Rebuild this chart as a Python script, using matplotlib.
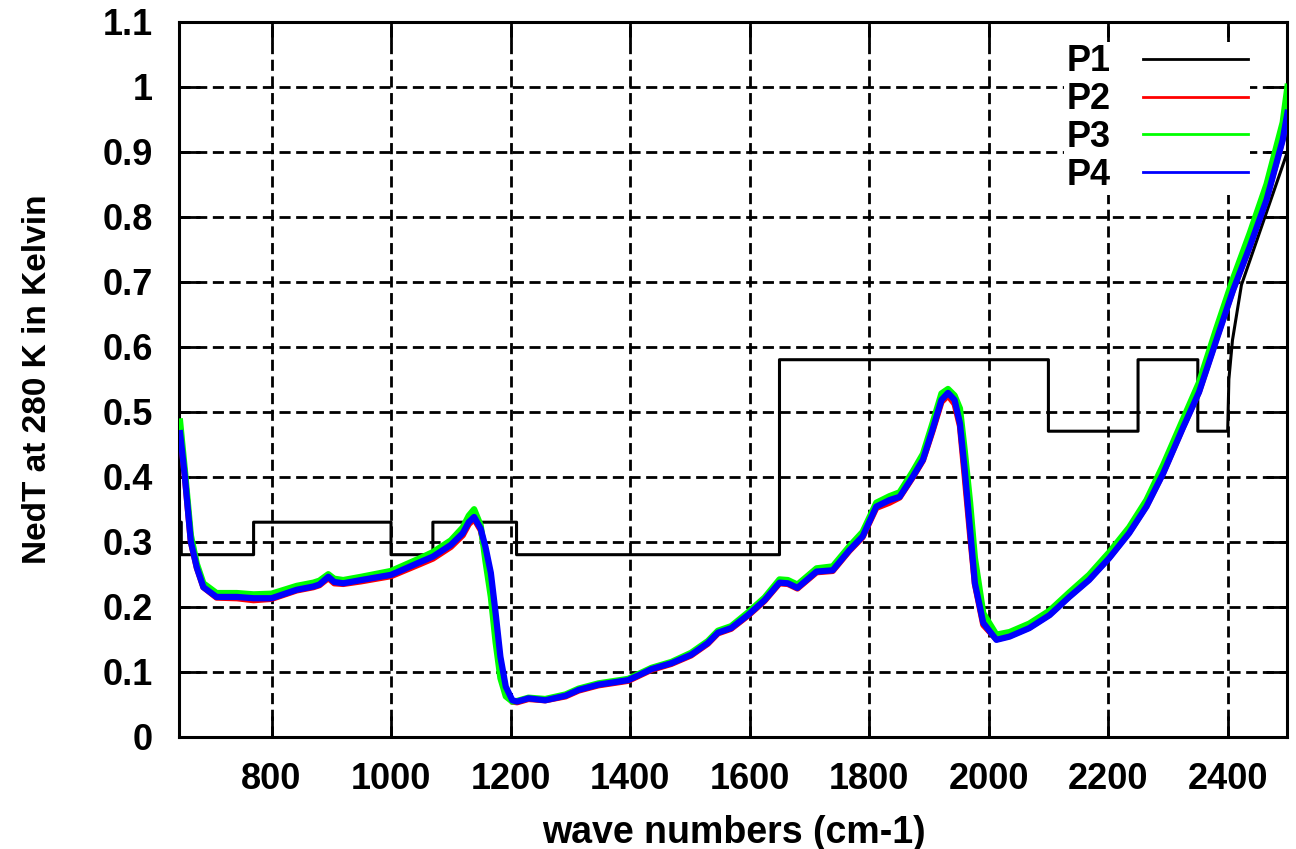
import matplotlib
matplotlib.use("Agg")
import matplotlib.pyplot as plt
from matplotlib.lines import Line2D
from matplotlib.ticker import FormatStrFormatter, MultipleLocator

# P1: stepped reference curve (vertices)
p1_wave = [646, 649, 649, 770, 770, 1000, 1000, 1070, 1070, 1210, 1210, 1650, 1650,
           2100, 2100, 2250, 2250, 2350, 2350, 2400, 2402, 2408, 2423, 2500]
p1_val = [0.33, 0.33, 0.28, 0.28, 0.33, 0.33, 0.28, 0.28, 0.33, 0.33, 0.28, 0.28, 0.58,
          0.58, 0.47, 0.47, 0.58, 0.58, 0.47, 0.47, 0.55, 0.61, 0.695, 0.90]

# P2, P3, P4: measured spectra, sampled on a common wave number grid
wave = [647, 655, 665, 675, 686, 708, 742, 770, 800, 842, 870, 880, 895, 905, 920, 950,
        1000, 1047, 1070, 1100, 1120, 1130, 1139, 1150, 1158, 1167, 1175, 1183, 1192,
        1203, 1211, 1230, 1258, 1292, 1314, 1347, 1397, 1436, 1469, 1502, 1530, 1547,
        1569, 1597, 1625, 1650, 1664, 1680, 1712, 1739, 1767, 1789, 1812, 1834, 1851,
        1873, 1890, 1906, 1921, 1932, 1943, 1952, 1960, 1969, 1977, 1991, 2013, 2035,
        2068, 2102, 2135, 2168, 2202, 2235, 2264, 2292, 2325, 2352, 2381, 2409, 2437,
        2465, 2492, 2500]

p2 = [0.47, 0.40, 0.30, 0.26, 0.23, 0.214, 0.213, 0.210, 0.212, 0.225, 0.230, 0.233,
      0.244, 0.236, 0.235, 0.239, 0.247, 0.265, 0.274, 0.292, 0.310, 0.327, 0.335, 0.318,
      0.285, 0.235, 0.165, 0.105, 0.068, 0.054, 0.053, 0.058, 0.056, 0.062, 0.071, 0.079,
      0.086, 0.103, 0.112, 0.125, 0.143, 0.159, 0.166, 0.186, 0.209, 0.236, 0.235, 0.228,
      0.253, 0.255, 0.286, 0.307, 0.352, 0.360, 0.368, 0.399, 0.425, 0.470, 0.515, 0.525,
      0.512, 0.478, 0.40, 0.31, 0.235, 0.172, 0.150, 0.155, 0.168, 0.188, 0.216, 0.242,
      0.276, 0.314, 0.355, 0.406, 0.476, 0.531, 0.612, 0.688, 0.755, 0.828, 0.92, 0.965]

p3 = [0.485, 0.41, 0.31, 0.266, 0.236, 0.221, 0.221, 0.219, 0.220, 0.232, 0.237, 0.240,
      0.250, 0.243, 0.241, 0.246, 0.255, 0.274, 0.284, 0.302, 0.322, 0.340, 0.350, 0.325,
      0.270, 0.215, 0.145, 0.09, 0.062, 0.054, 0.055, 0.060, 0.058, 0.065, 0.074, 0.082,
      0.089, 0.106, 0.115, 0.129, 0.147, 0.163, 0.170, 0.191, 0.214, 0.242, 0.241, 0.234,
      0.259, 0.262, 0.293, 0.315, 0.360, 0.370, 0.376, 0.408, 0.435, 0.482, 0.528, 0.535,
      0.525, 0.505, 0.44, 0.36, 0.275, 0.19, 0.157, 0.161, 0.174, 0.194, 0.222, 0.249,
      0.284, 0.322, 0.364, 0.418, 0.488, 0.545, 0.628, 0.705, 0.775, 0.85, 0.945, 1.0]

p4 = [0.467, 0.40, 0.30, 0.26, 0.23, 0.215, 0.215, 0.213, 0.213, 0.226, 0.231, 0.234,
      0.246, 0.238, 0.236, 0.241, 0.249, 0.268, 0.277, 0.295, 0.313, 0.330, 0.338, 0.320,
      0.292, 0.252, 0.19, 0.123, 0.077, 0.056, 0.054, 0.059, 0.056, 0.063, 0.072, 0.080,
      0.087, 0.104, 0.113, 0.126, 0.144, 0.160, 0.167, 0.187, 0.21, 0.237, 0.236, 0.229,
      0.254, 0.256, 0.287, 0.308, 0.354, 0.364, 0.369, 0.40, 0.426, 0.472, 0.518, 0.529,
      0.518, 0.482, 0.41, 0.318, 0.236, 0.175, 0.149, 0.154, 0.167, 0.187, 0.215, 0.241,
      0.275, 0.313, 0.354, 0.405, 0.475, 0.53, 0.61, 0.687, 0.754, 0.826, 0.918, 0.96]

plt.rcParams['font.family'] = ['Liberation Sans', 'DejaVu Sans']
plt.rcParams['font.weight'] = 'bold'
fs = 26

fig = plt.figure(figsize=(12.96, 8.49), dpi=100)
ax = fig.add_axes([0.1385, 0.1323, 0.8549, 0.8421])

ax.plot(p1_wave, p1_val, color='black', lw=2.2, zorder=3)
ax.plot(wave, p2, color='#ff0000', lw=4.5, zorder=4, solid_joinstyle='round')
ax.plot(wave, p3, color='#00ff00', lw=4.5, zorder=5, solid_joinstyle='round')
ax.plot(wave, p4, color='#0000ff', lw=4.5, zorder=6, solid_joinstyle='round')

ax.set_xlim(646, 2500)
ax.set_ylim(0, 1.1)
ax.xaxis.set_major_locator(MultipleLocator(200))
ax.yaxis.set_major_locator(MultipleLocator(0.1))
ax.yaxis.set_major_formatter(FormatStrFormatter('%g'))

ax.grid(True, color='black', linestyle=(0, (4, 2)), linewidth=2.0)
ax.set_axisbelow(True)
for s in ax.spines.values():
    s.set_linewidth(2.2)
ax.tick_params(direction='in', length=15, width=2, top=True, right=True,
               labelsize=fs)
ax.tick_params(axis='y', pad=19)
ax.tick_params(axis='x', pad=18)
for lab in ax.get_xticklabels() + ax.get_yticklabels():
    lab.set_fontweight('bold')

ax.set_xlabel('wave numbers (cm-1)', fontsize=27, fontweight='bold', labelpad=13)
ax.set_ylabel('NedT at 280 K in Kelvin', fontsize=24, fontweight='bold', labelpad=36)

handles = [Line2D([], [], color=c, lw=2) for c in ['black', '#ff0000', '#00ff00', '#0000ff']]
leg = ax.legend(handles, ['P1', 'P2', 'P3', 'P4'], loc='upper right',
                bbox_to_anchor=(0.9829, 0.997), markerfirst=False,
                handlelength=2.9, handletextpad=0.9, labelspacing=0.075,
                frameon=True, facecolor='white', edgecolor='none', framealpha=1,
                borderpad=0.07, prop={'weight': 'bold', 'size': fs})
leg.get_frame().set_boxstyle('square', pad=0)

fig.savefig('out.png', dpi=100)
